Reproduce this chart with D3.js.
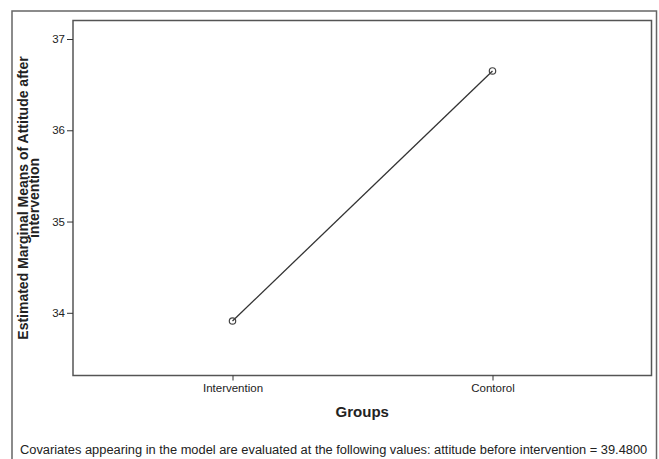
<!DOCTYPE html>
<html><head><meta charset="utf-8">
<script src="https://cdn.jsdelivr.net/npm/d3@7"></script>
<style>html,body{margin:0;padding:0;background:#fff;}svg{display:block;}</style>
</head><body>
<svg id="c" width="659" height="459"></svg>
<script>
const categories = ["Intervention", "Contorol"];
const means = [33.91, 36.65];
const yTicks = [34, 35, 36, 37];
const yTitle = ["Estimated Marginal Means of Attitude after", "intervention"];
const xTitle = "Groups";
const footnote = "Covariates appearing in the model are evaluated at the following values: attitude before intervention = 39.4800";

const svg = d3.select("#c");
const font = "'Liberation Sans', Arial, sans-serif";
const m = {l: 73, t: 20.5, r: 651.5, b: 375.5};

// outer frame
svg.append("rect").attr("x", 12).attr("y", 11).attr("width", 644.5).attr("height", 460)
  .attr("fill", "none").attr("stroke", "#666").attr("stroke-width", 1.5);

const xPos = d3.scalePoint().domain(categories).range([232.5, 492.5]);
const y = d3.scaleLinear().domain([34, 37]).range([312.8, 39]);

// plot frame
svg.append("rect").attr("x", m.l).attr("y", m.t).attr("width", m.r - m.l).attr("height", m.b - m.t)
  .attr("fill", "none").attr("stroke", "#555").attr("stroke-width", 1.5);

// y axis ticks
const yAxis = svg.append("g").attr("transform", `translate(${m.l},0)`)
  .call(d3.axisLeft(y).tickValues(yTicks).tickSize(6).tickPadding(2).tickFormat(d3.format("d")));
yAxis.select(".domain").remove();
yAxis.selectAll("line").attr("stroke", "#333");
yAxis.selectAll("text").attr("font-family", font).attr("font-size", 11.5).attr("fill", "#222");

// x axis ticks
const xAxis = svg.append("g").attr("transform", `translate(0,${m.b})`)
  .call(d3.axisBottom(xPos).tickSize(5).tickPadding(3));
xAxis.select(".domain").remove();
xAxis.selectAll("line").attr("stroke", "#333");
xAxis.selectAll("text").attr("font-family", font).attr("font-size", 11.5).attr("fill", "#222");

// line
const line = d3.line().x(d => xPos(d.c)).y(d => y(d.v));
const pts = categories.map((c, i) => ({c, v: means[i]}));
svg.append("path").datum(pts).attr("d", line).attr("fill", "none")
  .attr("stroke", "#333").attr("stroke-width", 1.3);
svg.selectAll("circle.pt").data(pts).enter().append("circle")
  .attr("cx", d => xPos(d.c)).attr("cy", d => y(d.v)).attr("r", 3.2)
  .attr("fill", "none").attr("stroke", "#444").attr("stroke-width", 1.2);

// x title
svg.append("text").attr("x", (m.l + m.r) / 2).attr("y", 417).attr("text-anchor", "middle")
  .attr("font-family", font).attr("font-size", 15).attr("font-weight", "bold").attr("fill", "#222").text(xTitle);

// y title
const cy = (m.t + m.b) / 2;
const yt = svg.append("text").attr("transform", `translate(28,${cy}) rotate(-90)`)
  .attr("text-anchor", "middle").attr("font-family", font).attr("font-size", 14)
  .attr("font-weight", "bold").attr("fill", "#222");
yt.append("tspan").attr("x", 0).attr("dy", 0).text(yTitle[0]);
yt.append("tspan").attr("x", 0).attr("dy", 11).text(yTitle[1]);

// footnote
svg.append("text").attr("x", 20).attr("y", 454).attr("font-family", font).attr("font-size", 12.85)
  .attr("fill", "#222").text(footnote);
</script>
</body></html>
